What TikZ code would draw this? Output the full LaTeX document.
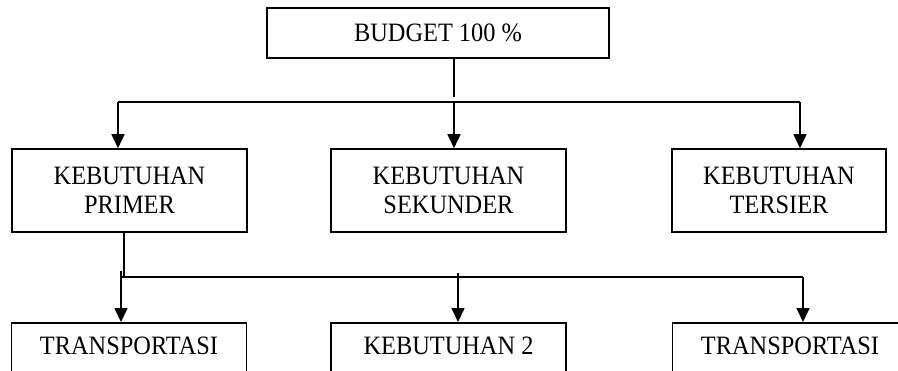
\documentclass[tikz,border=0pt]{standalone}
\usepackage{fontspec}
\setmainfont{Liberation Serif}
\newfontfamily\boxfont[FakeStretch=0.92]{Liberation Serif}
\usetikzlibrary{arrows.meta}
\begin{document}
\begin{tikzpicture}[x=1pt,y=-1pt,
  box/.style={draw,line width=1.6pt,inner sep=0pt,align=center,
    font=\boxfont\fontsize{26.5}{29}\selectfont},
  lowbox/.style={draw,line width=1.6pt,inner xsep=0pt,inner ysep=12pt,anchor=north,
    text height=19.5pt,text depth=40pt,font=\boxfont\fontsize{26.5}{29}\selectfont},
  ln/.style={line width=1.6pt},
  arr/.style={line width=1.6pt,-{Triangle[width=13pt,length=14pt]}}]
\useasboundingbox (0,0) rectangle (898,370);
\clip (0,0) rectangle (898,370);
\fill[white] (0,0) rectangle (898,370);
% level 0
\node[box,minimum width=342pt,minimum height=50pt] (b) at (438,33) {BUDGET 100 \%};
% level 1
\node[box,minimum width=235pt,minimum height=83pt] (p) at (129.5,190.5) {KEBUTUHAN\\PRIMER};
\node[box,minimum width=235pt,minimum height=83pt] (s) at (448.5,190.5) {KEBUTUHAN\\SEKUNDER};
\node[box,minimum width=214pt,minimum height=83pt] (t) at (779,190.5) {KEBUTUHAN\\TERSIER};
% level 2
\node[lowbox,minimum width=235pt] (t1) at (129,322) {TRANSPORTASI};
\node[lowbox,minimum width=235pt] (k2) at (448.5,322) {KEBUTUHAN 2};
\node[lowbox,minimum width=235pt] (t3) at (790,322) {TRANSPORTASI};
% connectors level 0 -> 1
\coordinate (j1) at (454,102);
\coordinate (h1L) at (118,102);
\coordinate (h1R) at (800,102);
\draw[ln] (b.south -| j1) -- ([yshift=5pt]j1);
\draw[ln] (h1L) -- (h1R);
\draw[arr] (h1L) -- (h1L |- p.north);
\draw[arr] (j1) -- (j1 |- s.north);
\draw[arr] (h1R) -- (h1R |- t.north);
% connectors level 1 -> 2
\coordinate (j2) at (124,277);
\coordinate (h2L) at (121,277);
\coordinate (h2M) at (458,273);
\coordinate (h2R) at (803,277);
\draw[ln] (p.south -| j2) -- (j2);
\draw[ln] (h2L) -- (h2R);
\draw[arr] ([yshift=6pt]h2L) -- (h2L |- t1.north);
\draw[arr] (h2M) -- (h2M |- k2.north);
\draw[arr] (h2R) -- (h2R |- t3.north);
\end{tikzpicture}
\end{document}
